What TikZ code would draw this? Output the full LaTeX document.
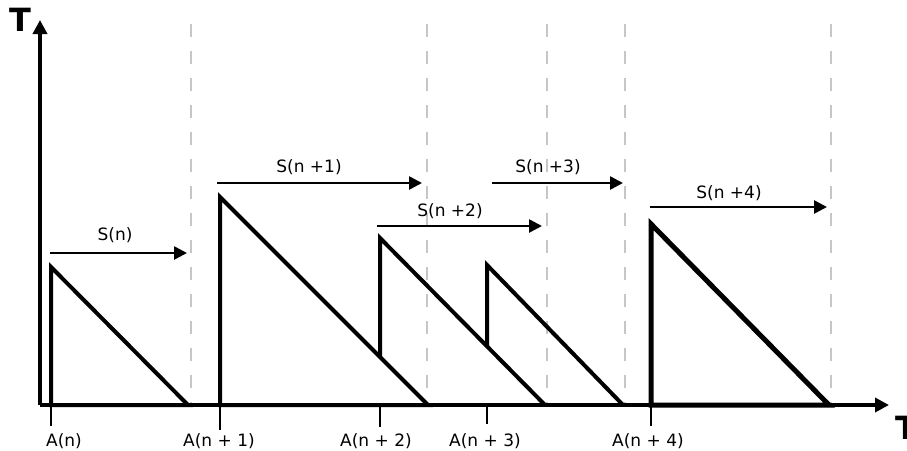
\documentclass[tikz,border=0pt]{standalone}
\usepackage{fontspec}
\setmainfont{DejaVu Sans}
\usetikzlibrary{arrows.meta}
\begin{document}
\begin{tikzpicture}[x=1pt,y=-1pt,
  axisline/.style={line width=4pt,-{Triangle[length=14pt,width=14pt]}},
  guide/.style={line width=2.7pt,draw=gray!45,dash pattern=on 13pt off 14pt},
  tri/.style={line width=4pt,line join=miter},
  tribold/.style={line width=5pt,line join=miter},
  tick/.style={line width=2.7pt},
  span/.style={line width=2.6pt,-{Triangle[length=13pt,width=13pt]}},
  lab/.style={font=\fontsize{17}{20}\selectfont,anchor=base,inner sep=0pt},
  axlab/.style={font=\fontsize{32}{36}\bfseries\selectfont,anchor=base,inner sep=0pt}]
\useasboundingbox (0,0) rectangle (907,450);
% guide lines
\foreach \gx/\gn in {191/g0,427/g1,547/g2,625/g3,831/g4}{
  \coordinate (\gn top) at (\gx,24);
  \coordinate (\gn bot) at (\gx,405);
  \draw[guide] (\gn top) -- (\gn bot);
}
% key points
\coordinate (O) at (40,405);
\coordinate (Ytip) at (40,20);
\coordinate (Xtip) at (889,405);
% triangles
\coordinate (a0) at (51,405);  \coordinate (t0) at (51,267);  \coordinate (e0) at (188,405);
\coordinate (a1) at (220,405); \coordinate (t1) at (220,197); \coordinate (e1) at (428,405);
\coordinate (b2) at (380,357); \coordinate (t2) at (380,238); \coordinate (e2) at (545,405);
\coordinate (b3) at (487,346); \coordinate (t3) at (487,265); \coordinate (e3) at (623,405);
\coordinate (a4) at (651,405); \coordinate (t4) at (651,224); \coordinate (e4) at (829,405);
\draw[tri] (a0) -- (t0) -- (e0) -- cycle;
\draw[tri] (a1) -- (t1) -- (e1) -- cycle;
\draw[tri] (b2) -- (t2) -- (e2);
\draw[tri] (b3) -- (t3) -- (e3);
\draw[tribold] (a4) -- (t4) -- (e4) -- cycle;
% axes
\draw[axisline] (O) -- (Ytip);
\draw[axisline] (O) -- (Xtip);
\node[axlab] (ylab) at (20,31) {T};
\node[axlab] (xlab) at (906,439) {T};
% ticks and labels
\foreach \tx/\tend/\lx/\txt/\nm in {51/426/64/A(n)/l0,220/430/219/A(n + 1)/l1,380/427/376/A(n + 2)/l2,487/424/485/A(n + 3)/l3,651/426/648/A(n + 4)/l4}{
  \coordinate (\nm a) at (\tx,405);
  \coordinate (\nm b) at (\tx,\tend);
  \draw[tick] (\nm a) -- (\nm b);
  \node[lab] (\nm) at (\lx,446) {\txt};
}
% service spans
\foreach \sx/\ex/\sy/\lx/\ly/\txt/\nm in {50/187/253/115/240/S(n)/s0,217/422/183/309/172/S(n +1)/s1,377/542/226/450/216/S(n +2)/s2,492/623/183/548/172/S(n +3)/s3,650/827/207/729/198/S(n +4)/s4}{
  \coordinate (\nm start) at (\sx,\sy);
  \coordinate (\nm end) at (\ex,\sy);
  \draw[span] (\nm start) -- (\nm end);
  \node[lab] (\nm) at (\lx,\ly) {\txt};
}
\end{tikzpicture}
\end{document}
